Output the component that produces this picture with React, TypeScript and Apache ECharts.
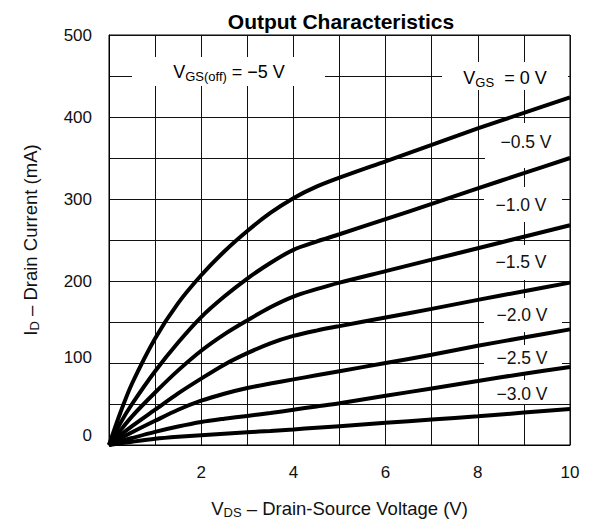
import React, { useEffect, useRef } from "react";
import * as echarts from "echarts";

// Drain-source voltage samples (V)
const vds = [0, 0.25, 0.5, 1, 1.5, 2, 2.5, 3, 3.5, 4, 4.5, 5, 6, 7, 8, 9, 10];
// Drain current (mA) for each gate voltage
const id0V = [0, 40, 75, 130, 173, 207, 236, 261, 283, 301, 315, 326, 346, 366, 386, 405, 424];
const idM05 = [0, 27, 50, 90, 125, 156, 181, 203, 222, 238, 248, 257, 275.5, 294, 313, 331.5, 350];
const idM10 = [0, 18, 35, 64, 91, 115, 135, 152, 168, 181, 190, 198, 212, 226, 240, 254, 268];
const idM15 = [0, 12, 23, 43, 63, 81, 98, 112, 124, 133, 139.5, 145, 155.5, 166, 177, 187.5, 198];
const idM20 = [0, 8, 15.5, 29.5, 43, 54, 62.5, 69.5, 75, 80, 85, 90, 100, 110, 121, 131, 141];
const idM25 = [0, 4.5, 8.5, 16, 22.5, 28, 32, 35.5, 39, 43, 47, 51, 60, 69, 78, 87, 95];
const idM30 = [0, 2, 4, 7.5, 10, 12, 13.8, 15.5, 17.2, 19, 21, 23, 27, 31, 35, 39.5, 44];

const seriesNames = ["0 V", "-0.5 V", "-1.0 V", "-1.5 V", "-2.0 V", "-2.5 V", "-3.0 V"];
const seriesValues = [id0V, idM05, idM10, idM15, idM20, idM25, idM30];
const curveLabels = ["\u22120.5 V", "\u22121.0 V", "\u22121.5 V", "\u22122.0 V", "\u22122.5 V", "\u22123.0 V"];

const xTicks = [2, 4, 6, 8, 10];
const yTicks = [0, 100, 200, 300, 400, 500];

const FONT = "'Liberation Sans', Arial, Helvetica, sans-serif";

export default function App() {
  const ref = useRef<HTMLDivElement>(null);
  useEffect(() => {
    if (!ref.current) return;
    const chart = echarts.init(ref.current, null, { renderer: "svg" });
    const rich = {
      m: { fontSize: 18, lineHeight: 21, fontFamily: FONT, color: "#111" },
      s: { fontSize: 13, lineHeight: 13, fontFamily: FONT, color: "#111", verticalAlign: "bottom" },
    };
    const nameRich = {
      m: { fontSize: 18.5, lineHeight: 21, fontFamily: FONT, color: "#111" },
      s: { fontSize: 13, lineHeight: 13, fontFamily: FONT, color: "#111", verticalAlign: "bottom" },
    };
    // label box geometry (pixels)
    const boxes = [
      { x: 132, y: 57, w: 193, h: 29 },
      { x: 442, y: 62, w: 126, h: 28 },
      { x: 485, y: 123, w: 82, h: 45 },
      { x: 484, y: 187, w: 78, h: 35 },
      { x: 484, y: 245, w: 84, h: 35 },
      { x: 484, y: 298, w: 78, h: 34 },
      { x: 484, y: 345, w: 78, h: 27 },
      { x: 484, y: 380, w: 78, h: 24 },
    ];
    const labelPos = [
      [526, 142],
      [521, 205],
      [521, 262],
      [522, 315],
      [522, 358],
      [522, 394],
    ];
    const graphic: any[] = boxes.map((b) => ({
      type: "rect",
      z: 1,
      silent: true,
      shape: { x: b.x, y: b.y, width: b.w, height: b.h },
      style: { fill: "#fff" },
    }));
    graphic.push({
      type: "text",
      z: 5,
      x: 229,
      y: 72,
      style: {
        text: "{m|V}{s|GS(off)}{m| = \u22125 V}",
        rich,
        align: "center",
        verticalAlign: "middle",
      },
    });
    graphic.push({
      type: "text",
      z: 5,
      x: 505,
      y: 78,
      style: {
        text: "{m|V}{s|GS}{m|  = 0 V}",
        rich,
        align: "center",
        verticalAlign: "middle",
      },
    });
    curveLabels.forEach((t, i) => {
      graphic.push({
        type: "text",
        z: 5,
        x: labelPos[i][0],
        y: labelPos[i][1],
        style: {
          text: t,
          fontSize: 17.5,
          fontFamily: FONT,
          fill: "#111",
          align: "center",
          verticalAlign: "middle",
        },
      });
    });

    chart.setOption({
      animation: false,
      backgroundColor: "#fff",
      title: {
        text: "Output Characteristics",
        left: 336,
        textAlign: "center",
        top: 6,
        textStyle: { fontSize: 21, fontWeight: "bold", fontFamily: FONT, color: "#000" },
      },
      grid: {
        left: 109,
        top: 35,
        width: 461,
        height: 410,
        show: true,
        borderColor: "#000",
        borderWidth: 1,
      },
      xAxis: {
        type: "value",
        min: 0,
        max: 10,
        interval: 1,
        name: "{m|V}{s|DS}{m| \u2013 Drain-Source Voltage (V)}",
        nameLocation: "middle",
        nameGap: 53,
        nameTextStyle: { rich: nameRich },
        axisLine: { show: true, lineStyle: { color: "#000", width: 1 } },
        axisTick: { show: false },
        splitLine: { show: true, lineStyle: { color: "#111", width: 1 } },
        axisLabel: {
          margin: 19,
          fontSize: 17,
          fontFamily: FONT,
          color: "#111",
          formatter: (v: number) => (xTicks.indexOf(v) >= 0 ? String(v) : ""),
        },
      },
      yAxis: {
        type: "value",
        min: 0,
        max: 500,
        interval: 50,
        name: "{m|I}{s|D}{m| \u2013 Drain Current (mA)}",
        nameLocation: "middle",
        nameRotate: 90,
        nameGap: 68,
        nameTextStyle: { rich: nameRich },
        axisLine: { show: true, lineStyle: { color: "#000", width: 1 } },
        axisTick: { show: false },
        splitLine: { show: true, lineStyle: { color: "#111", width: 1 } },
        axisLabel: {
          margin: 17,
          fontSize: 17,
          fontFamily: FONT,
          color: "#111",
          formatter: (v: number) => {
            if (yTicks.indexOf(v) < 0) return "";
            if (v === 0) return "{z|0}";
            if (v === 100) return "{h|100}";
            return String(v);
          },
          rich: {
            z: { fontSize: 17, fontFamily: FONT, color: "#111", padding: [0, 0, 20, 0] },
            h: { fontSize: 17, fontFamily: FONT, color: "#111", padding: [0, 0, 12, 0] },
          },
        },
      },
      series: seriesValues.map((vals, i) => ({
        name: seriesNames[i],
        type: "line",
        z: 2,
        data: vds.map((v, j) => [v, vals[j]]),
        showSymbol: false,
        smooth: 0.3,
        lineStyle: { color: "#000", width: 4 },
        clip: false,
      })),
      graphic,
    });
    return () => chart.dispose();
  }, []);
  return (
    <div
      ref={ref}
      style={{ position: "fixed", left: 0, top: 0, width: 590, height: 524, background: "#fff" }}
    />
  );
}
